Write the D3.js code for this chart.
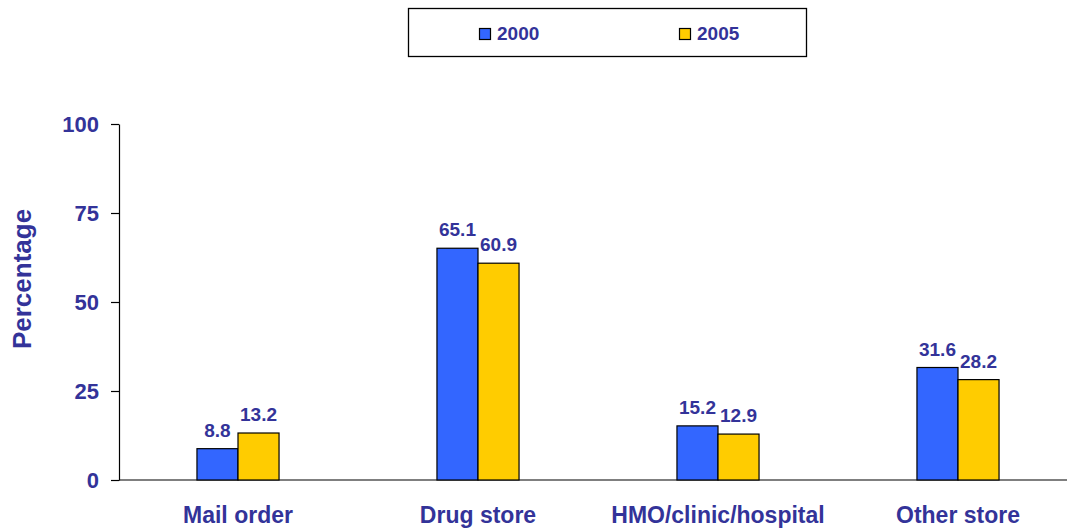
<!DOCTYPE html>
<html>
<head>
<meta charset="utf-8">
<script src="https://cdn.jsdelivr.net/npm/d3@7"></script>
<style>
  body { margin: 0; background: #fff; }
  text { font-family: "Liberation Sans", Arial, sans-serif; font-weight: bold; fill: #333399; }
</style>
</head>
<body>
<script>
// data
var categories = ["Mail order", "Drug store", "HMO/clinic/hospital", "Other store"];
var years = ["2000", "2005"];
var values2000 = [8.8, 65.1, 15.2, 31.6];
var values2005 = [13.2, 60.9, 12.9, 28.2];
var yTicks = [0, 25, 50, 75, 100];
var colors = ["#3366FF", "#FFCC00"];

var w = 1067, h = 529;
var svg = d3.select("body").append("svg")
    .attr("width", w)
    .attr("height", h);

var y = d3.scaleLinear().domain([0, 100]).range([480, 124]);
var x = d3.scaleBand().domain(categories)
    .range([118, 1078])
    .paddingInner(0.658)
    .paddingOuter(0.329);
var x1 = d3.scaleBand().domain(years).range([0, x.bandwidth()]);

// axes
svg.append("line")
    .attr("x1", 119).attr("x2", w)
    .attr("y1", y(0)).attr("y2", y(0))
    .attr("stroke", "#000").attr("stroke-width", 1.2);

var yAxis = svg.append("g")
    .attr("transform", "translate(119,0)")
    .call(d3.axisLeft(y).tickValues(yTicks).tickSize(8).tickPadding(12).tickSizeOuter(0));
yAxis.select(".domain").attr("stroke", "#000").attr("stroke-width", 1.2);
yAxis.selectAll(".tick line").attr("stroke", "#000").attr("stroke-width", 1.2);
yAxis.selectAll(".tick text")
    .attr("font-size", "22px")
    .attr("fill", "#333399")
    .attr("font-family", "Liberation Sans, Arial, sans-serif")
    .attr("font-weight", "bold");

svg.append("text")
    .attr("transform", "translate(31,279) rotate(-90)")
    .attr("text-anchor", "middle")
    .attr("font-size", "26px")
    .text("Percentage");

// bars
var rows = categories.map(function (c, i) {
  return { cat: c, vals: [values2000[i], values2005[i]] };
});

var groups = svg.selectAll("g.grp")
    .data(rows)
    .enter()
    .append("g")
    .attr("class", "grp")
    .attr("transform", function (d) { return "translate(" + x(d.cat) + ",0)"; });

groups.selectAll("rect")
    .data(function (d) { return d.vals; })
    .enter()
    .append("rect")
    .attr("x", function (d, i) { return x1(years[i]); })
    .attr("y", function (d) { return y(d); })
    .attr("width", x1.bandwidth())
    .attr("height", function (d) { return y(0) - y(d); })
    .attr("fill", function (d, i) { return colors[i]; })
    .attr("stroke", "#000")
    .attr("stroke-width", 1.2);

groups.selectAll("text.val")
    .data(function (d) { return d.vals; })
    .enter()
    .append("text")
    .attr("class", "val")
    .attr("x", function (d, i) { return x1(years[i]) + x1.bandwidth() / 2; })
    .attr("y", function (d) { return y(d) - 12; })
    .attr("text-anchor", "middle")
    .attr("font-size", "19px")
    .text(function (d) { return d.toFixed(1); });

svg.selectAll("text.cat")
    .data(categories)
    .enter()
    .append("text")
    .attr("class", "cat")
    .attr("x", function (d) { return x(d) + x.bandwidth() / 2; })
    .attr("y", 523)
    .attr("text-anchor", "middle")
    .attr("font-size", "23px")
    .text(function (d) { return d; });

// legend
svg.append("rect")
    .attr("x", 408.5).attr("y", 8.5)
    .attr("width", 398).attr("height", 48)
    .attr("fill", "#fff")
    .attr("stroke", "#000")
    .attr("stroke-width", 1.3);

var legX = [479, 679];
var leg = svg.selectAll("g.leg")
    .data(years)
    .enter()
    .append("g")
    .attr("class", "leg")
    .attr("transform", function (d, i) { return "translate(" + legX[i] + ",0)"; });
leg.append("rect")
    .attr("x", 0.5).attr("y", 28.5)
    .attr("width", 11).attr("height", 11)
    .attr("fill", function (d, i) { return colors[i]; })
    .attr("stroke", "#000")
    .attr("stroke-width", 1.2);
leg.append("text")
    .attr("x", 18)
    .attr("y", 40)
    .attr("font-size", "19px")
    .text(function (d) { return d; });
</script>
</body>
</html>
